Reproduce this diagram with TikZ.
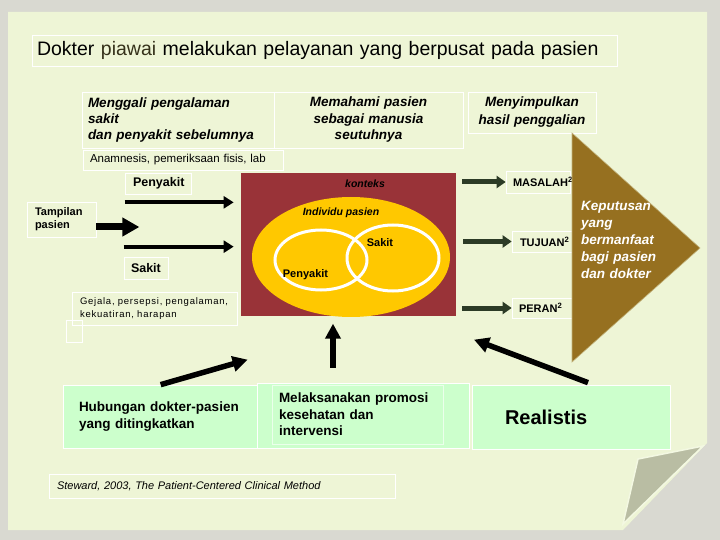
\documentclass[tikz,border=0pt]{standalone}
\usepackage{fontspec}
\setmainfont{Liberation Sans}
\usepackage{xcolor}
\usepackage{tikz}
\definecolor{latar}{HTML}{D9D9D1}
\definecolor{kertas}{HTML}{EEF5D6}
\definecolor{lipatan}{HTML}{B9BDA3}
\definecolor{merahbata}{HTML}{993338}
\definecolor{kuning}{HTML}{FFC800}
\definecolor{coklat}{HTML}{967020}
\definecolor{hijaumuda}{HTML}{CCFFCC}
\definecolor{hijaugelap}{HTML}{2C3B26}
\definecolor{zaitun}{HTML}{35311A}
\usetikzlibrary{arrows.meta}
\newcommand{\ukuran}[2]{\fontsize{#1}{#2}\selectfont}
\tikzset{
	kotak/.style={draw=white, line width=0.7pt, inner ysep=0pt, align=left},
	hijau/.style={kotak, fill=hijaumuda},
	panah/.style={line width=4pt, -{Triangle[length=10pt,width=12pt]}},
	panahbesar/.style={line width=7pt, -{Triangle[length=17pt,width=18pt]}},
	panahtebal/.style={line width=5.5pt, -{Triangle[length=15pt,width=15pt]}},
	panahhijau/.style={hijaugelap, line width=5pt, -{Triangle[length=9pt,width=12pt]}},
	lingkar/.style={draw=white, line width=3pt},
}

\begin{document}
\begin{tikzpicture}[x=1pt, y=-1pt]
			\useasboundingbox (0,0) rectangle (720,540);
			\fill[latar] (0,0) rectangle (720,540);
			\fill[kertas] (8,12) -- (707,12) -- (707,443) -- (623,530) -- (8,530) -- cycle;
			\filldraw[fill=lipatan, draw=kertas!70!white, line width=1.5pt] (703,446) -- (638,459) -- (623,524) -- cycle;
			
			\node[kotak, minimum height=31pt, text width=575pt, inner xsep=5pt, font=\ukuran{19.5}{23}] (judul) at (324.5,50.5) {Dokter {\color{zaitun}piawai} melakukan pelayanan yang berpusat pada pasien};
			
			\node[kotak, minimum height=56pt, text width=180pt, inner xsep=6pt, font=\ukuran{13.5}{16}\bfseries\itshape] (menggali) at (178,120) {Menggali pengalaman\\sakit\\dan penyakit sebelumnya};
			\node[kotak, align=center, minimum height=56pt, text width=181pt, inner xsep=4pt, font=\ukuran{13.5}{16.5}\bfseries\itshape] (memahami) at (368.5,120) {Memahami pasien\\sebagai manusia\\seutuhnya};
			\node[kotak, align=center, minimum height=41pt, text width=120pt, inner xsep=4pt, font=\ukuran{13.5}{18}\bfseries\itshape] (menyimpulkan) at (532,112.5) {Menyimpulkan\\hasil penggalian};
			\node[kotak, minimum height=20pt, text width=186pt, inner xsep=7pt, font=\ukuran{11.5}{14}] (anamnesis) at (183,160) {Anamnesis, pemeriksaan fisis, lab};
			
			\node[kotak, minimum height=21pt, text width=50pt, inner xsep=8pt, font=\ukuran{12.5}{15}\bfseries] (penyakit) at (158,183.5) {Penyakit};
			\node[kotak, minimum height=35pt, text width=53pt, inner xsep=8pt, font=\ukuran{11}{13}\bfseries] (tampilan) at (61.5,219.5) {Tampilan\\pasien};
			\node[kotak, minimum height=22pt, text width=30pt, inner xsep=7pt, font=\ukuran{12.5}{15}\bfseries] (sakit) at (146,268) {Sakit};
			\node[kotak, minimum height=33pt, text width=149pt, inner xsep=8pt, font=\ukuran{9.5}{13}\addfontfeature{LetterSpace=8}] (gejala) at (154.5,308.5) {Gejala, persepsi, pengalaman,\\kekuatiran, harapan};
			\node[kotak, minimum width=16pt, minimum height=22pt, inner sep=0pt] (kecil) at (74,331) {};
			
			\draw[panah] ([yshift=-8pt]penyakit.south west) -- ++(109,0);
			\draw[panah] ([yshift=10pt]sakit.north west) -- ++(110,0);
			\draw[panahbesar] ([yshift=-7.5pt]tampilan.east) -- ++(43,0);
			
			% konteks, individu pasien, penyakit dan sakit
			\node[fill=merahbata, minimum width=215pt, minimum height=143pt, inner sep=0pt] (konteks) at (348.5,244.5) {};
			\begin{scope}
				\clip (konteks.south west) rectangle (konteks.north east);
				\fill[kuning] (351,257) ellipse [x radius=99, y radius=60];
			\end{scope}
			\draw[lingkar] (321,260) ellipse [x radius=46, y radius=30];
			\draw[lingkar] (393,258) ellipse [x radius=46, y radius=33];
			\node[font=\ukuran{10.5}{12}\bfseries\itshape] (lblkonteks) at (365,183.5) {konteks};
			\node[font=\ukuran{10.5}{12}\bfseries\itshape] (lblindividu) at (341,213) {Individu pasien};
			\node[font=\ukuran{11}{13}\bfseries] (lblsakit) at (380,243) {Sakit};
			\node[font=\ukuran{11}{13}\bfseries] (lblpenyakit) at (305.5,275) {Penyakit};
			
			\node[kotak, minimum height=22pt, text width=50pt, inner xsep=7pt, font=\ukuran{11}{13}\bfseries] (masalah) at (538,182) {MASALAH\textsuperscript{2}};
			\node[kotak, minimum height=21pt, text width=44pt, inner xsep=8pt, font=\ukuran{11}{13}\bfseries] (tujuan) at (542,241.5) {TUJUAN\textsuperscript{2}};
			\node[kotak, minimum height=20pt, text width=46pt, inner xsep=7pt, font=\ukuran{11}{13}\bfseries] (peran) at (542,308) {PERAN\textsuperscript{2}};
			\coordinate (am) at (462,182);
			\coordinate (at) at (463,241.5);
			\coordinate (ap) at (462,308);
			\draw[panahhijau] (am) -- (masalah.west);
			\draw[panahhijau] (at) -- (tujuan.west);
			\draw[panahhijau] (ap) -- (peran.west);
			
			\filldraw[fill=coklat, draw=kertas!50!coklat, line width=0.6pt] (572,133) -- (700,248) -- (572,362) -- cycle;
			\node[anchor=north west, inner sep=0pt, text width=115pt, text=white, font=\ukuran{13.5}{17}\bfseries\itshape] (keputusan) at (581,201) {Keputusan\\yang\\bermanfaat\\bagi pasien\\dan dokter};
			
			\node[hijau, minimum height=63pt, text width=162pt, inner xsep=16pt, font=\ukuran{13.5}{17}\bfseries] (hubungan) at (160,416.5) {Hubungan dokter-pasien\\yang ditingkatkan};
			\node[hijau, minimum width=212pt, minimum height=65pt, inner sep=0pt] (promosi) at (363,415.5) {};
			\node[kotak, draw=hijaumuda!40!white, minimum height=59pt, text width=157pt, inner xsep=7pt, font=\ukuran{13.5}{16.5}\bfseries] (melaksanakan) at (357.5,414.5) {Melaksanakan promosi\\kesehatan dan\\intervensi};
			\node[hijau, minimum height=64pt, text width=132pt, inner xsep=33pt, font=\ukuran{20}{24}\bfseries] (realistis) at (571,417) {Realistis};
			
			\draw[panahtebal] ([xshift=98pt]hubungan.north west) -- ++(87,-25);
			\draw[panahtebal] ([xshift=-30pt,yshift=15pt]promosi.north) -- ++(0,-44);
			\draw[panahtebal] ([xshift=17pt,yshift=2pt]realistis.north) -- ++(-114,-43);
			
			\node[kotak, minimum height=24pt, text width=330pt, inner xsep=8pt, font=\ukuran{11}{13}\itshape] (sumber) at (222,486) {Steward, 2003, The Patient-Centered Clinical Method};
\end{tikzpicture}
\end{document}
